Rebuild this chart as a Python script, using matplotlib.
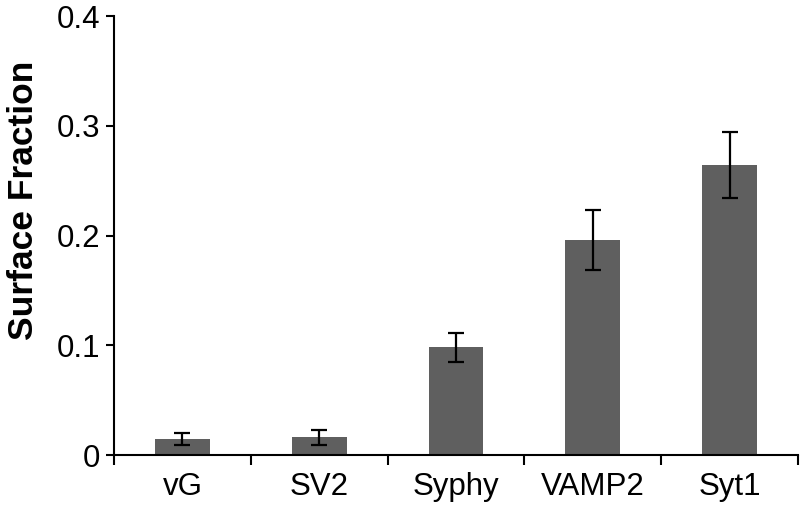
import matplotlib
matplotlib.use("Agg")
import matplotlib.pyplot as plt
import numpy as np

categories = ["vG", "SV2", "Syphy", "VAMP2", "Syt1"]
values = [0.015, 0.016, 0.098, 0.196, 0.264]
errors = [0.0055, 0.007, 0.013, 0.027, 0.030]
yticks = [0, 0.1, 0.2, 0.3, 0.4]
ytick_labels = ["0", "0.1", "0.2", "0.3", "0.4"]

plt.rcParams['font.family'] = ['Liberation Sans', 'DejaVu Sans']

fig = plt.figure(figsize=(8, 5.08), dpi=100)
ax = fig.add_axes([0.1425, 0.1043, 0.855, 0.8642])

x = np.arange(len(categories))
ax.bar(x, values, width=0.4, color="#5f5f5f", zorder=2)
ax.errorbar(x, values, yerr=errors, fmt="none", ecolor="black",
            elinewidth=1.6, capsize=5.5, capthick=1.6, zorder=3)

ax.set_xlim(-0.5, len(categories) - 0.5)
ax.set_ylim(0, 0.4)
ax.set_yticks(yticks)
ax.set_yticklabels(ytick_labels)

ax.set_xticks(np.arange(len(categories) + 1) - 0.5)
ax.set_xticklabels([])
ax.set_xticks(x, minor=True)
ax.set_xticklabels(categories, minor=True)
ax.tick_params(axis="x", which="minor", length=0, pad=12, labelsize=22.5)
ax.tick_params(axis="x", which="major", direction="out", length=7, width=1.5)
ax.tick_params(axis="y", direction="out", length=6, width=1.5, pad=4, labelsize=22.5)

for s in ["top", "right"]:
    ax.spines[s].set_visible(False)
for s in ["left", "bottom"]:
    ax.spines[s].set_linewidth(1.5)

ax.set_ylabel("Surface Fraction", fontsize=25.5, fontweight="bold")
ax.yaxis.set_label_coords(-0.108, 0.58)

fig.savefig("out.png", dpi=100)
